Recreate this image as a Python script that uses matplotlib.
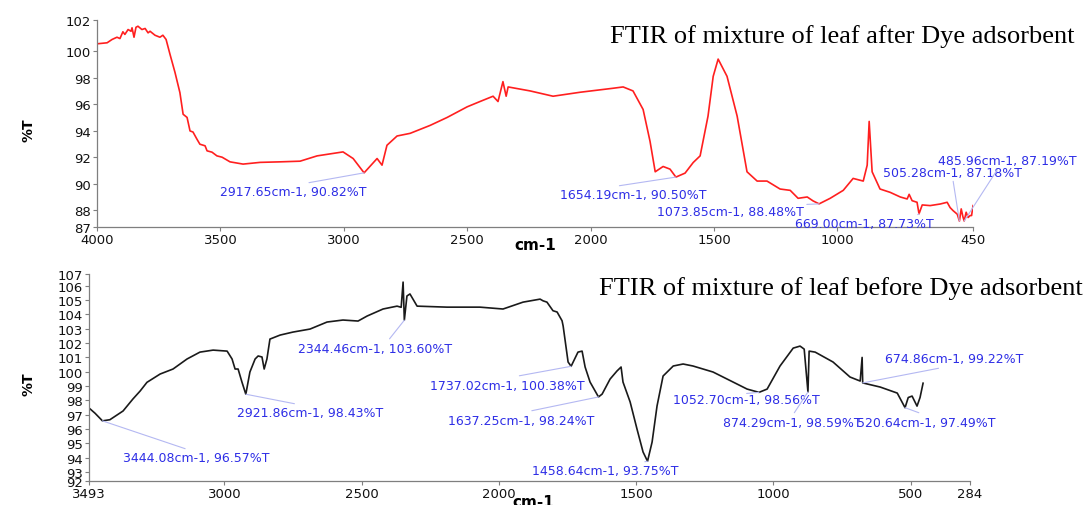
import matplotlib
matplotlib.use("Agg")
import matplotlib.pyplot as plt

# FTIR spectrum after dye adsorption (top, red)
after_wn = [3996, 3959, 3939, 3919, 3907, 3895, 3887, 3874, 3862, 3858, 3850, 3842, 3834, 3818,
            3805, 3793, 3785, 3765, 3745, 3733, 3720, 3704, 3684, 3664, 3651, 3635, 3623, 3611,
            3595, 3583, 3562, 3554, 3534, 3514, 3493, 3461, 3408, 3339, 3258, 3177, 3108, 3003,
            2962, 2917.65, 2865, 2845, 2825, 2784, 2731, 2650, 2581, 2500, 2448, 2395, 2375, 2363,
            2355, 2342, 2334, 2245, 2152, 2042, 1909, 1868, 1828, 1787, 1759, 1738, 1706, 1678,
            1654.19, 1617, 1584, 1556, 1524, 1503, 1483, 1447, 1406, 1366, 1325, 1285, 1232, 1191,
            1159, 1122, 1098, 1073.85, 1029, 976, 936, 895, 879, 871, 859, 827, 786, 745, 717, 709,
            697, 677, 669.00, 656, 624, 583, 555, 543, 531, 514, 505.28, 498, 491, 485.96, 478,
            470, 462, 456, 450]
after_t = [100.56, 100.63, 100.88, 101.05, 100.95, 101.46, 101.26, 101.63, 101.50, 101.76, 101.05,
           101.80, 101.88, 101.63, 101.71, 101.38, 101.50, 101.20, 101.05, 101.20, 100.88, 99.75,
           98.40, 96.87, 95.24, 95.0, 93.98, 93.9, 93.36, 92.98, 92.86, 92.48, 92.38, 92.1, 92.0,
           91.65, 91.48, 91.61, 91.65, 91.7, 92.1, 92.4, 91.9, 90.82, 91.9, 91.4, 92.9, 93.6, 93.8,
           94.4, 95.0, 95.8, 96.2, 96.6, 96.2, 97.1, 97.7, 96.6, 97.3, 97.0, 96.6, 96.9, 97.2, 97.3,
           97.0, 95.6, 93.2, 90.9, 91.3, 91.1, 90.50, 90.8, 91.6, 92.1, 95.1, 98.1, 99.4, 98.1,
           95.1, 90.9, 90.2, 90.2, 89.6, 89.5, 88.9, 89.0, 88.7, 88.48, 88.9, 89.5, 90.4, 90.2,
           91.4, 94.7, 90.9, 89.6, 89.35, 89.0, 88.85, 89.2, 88.72, 88.6, 87.73, 88.4, 88.35,
           88.47, 88.6, 88.2, 87.97, 87.7, 87.18, 88.1, 87.5, 87.19, 87.85, 87.45, 87.6, 87.6,
           88.35]

# FTIR spectrum before dye adsorption (bottom, black)
before_wn = [3493, 3471, 3444.08, 3417, 3369, 3333, 3307, 3282, 3234, 3187, 3136, 3089, 3041, 2990,
             2972, 2961, 2950, 2936, 2921.86, 2907, 2888, 2877, 2863, 2855, 2845, 2834, 2797, 2750,
             2688, 2626, 2568, 2513, 2480, 2422, 2389, 2371, 2356, 2349, 2344.46, 2335, 2324, 2298,
             2189, 2069, 1985, 1912, 1850, 1839, 1825, 1803, 1788, 1770, 1766, 1748, 1737.02, 1712,
             1697, 1686, 1668, 1637.25, 1624, 1595, 1570, 1555, 1548, 1522, 1497, 1475, 1458.64,
             1442, 1424, 1402, 1365, 1329, 1293, 1220, 1147, 1096, 1052.70, 1023, 976, 928, 903,
             888, 874.29, 870, 848, 783, 721, 684, 677, 674.86, 611, 549, 520.64, 509, 495, 477,
             466, 455]
before_t = [97.47, 97.1, 96.57, 96.65, 97.26, 98.10, 98.65, 99.26, 99.84, 100.19, 100.89, 101.37, 101.51,
            101.44, 100.89, 100.19, 100.19, 99.28, 98.43, 99.98, 100.89, 101.10, 101.03, 100.19, 100.89,
            102.28, 102.56, 102.77, 102.98, 103.47, 103.61, 103.54, 103.89, 104.38, 104.51, 104.58,
            104.5, 106.26, 103.60, 105.29, 105.43, 104.58, 104.51, 104.51, 104.38, 104.86, 105.07,
            104.95, 104.86, 104.26, 104.17, 103.56, 103.19, 100.68, 100.38, 101.37, 101.44, 100.33,
            99.28, 98.24, 98.44, 99.49, 100.05, 100.33, 99.28, 97.89, 96.0, 94.40, 93.75, 95.09,
            97.61, 99.7, 100.40, 100.54, 100.40, 99.98, 99.28, 98.79, 98.56, 98.79, 100.40, 101.65,
            101.79, 101.58, 98.59, 101.44, 101.37, 100.68, 99.63, 99.35, 101.0, 99.22, 98.93, 98.51,
            97.49, 98.2, 98.3, 97.6, 98.2, 99.2]

# labelled peaks
after_peaks_wn = [2917.65, 1654.19, 1073.85, 669.00, 505.28, 485.96]
after_peaks_t = [90.82, 90.50, 88.48, 87.73, 87.18, 87.19]
before_peaks_wn = [3444.08, 2921.86, 2344.46, 1737.02, 1637.25, 1458.64, 1052.70, 874.29, 520.64, 674.86]
before_peaks_t = [96.57, 98.43, 103.60, 100.38, 98.24, 93.75, 98.56, 98.59, 97.49, 99.22]

top_xticks = [4000, 3500, 3000, 2500, 2000, 1500, 1000, 450]
bot_xticks = [3493, 3000, 2500, 2000, 1500, 1000, 500, 284]

LABEL_BLUE = '#2e2ee6'
LEADER = '#b4b8f2'

fig = plt.figure(figsize=(10.91, 5.06), dpi=100)
ax1 = fig.add_axes([0.0889, 0.549, 0.803, 0.409])
ax2 = fig.add_axes([0.0816, 0.0474, 0.8075, 0.409])


def style_axis(ax):
    for s in ['top', 'right']:
        ax.spines[s].set_visible(False)
    for s in ['left', 'bottom']:
        ax.spines[s].set_color('#7f7f7f')
        ax.spines[s].set_linewidth(0.9)
    ax.tick_params(axis='both', colors='#7f7f7f', length=3, width=0.8, labelcolor='#111111',
                   labelsize=9.5, pad=1.5)


# top panel
ax1.plot(after_wn, after_t, color='#ff1f1f', lw=1.2)
ax1.set_xlim(4000, 450)
ylo, yhi = 86.72, 102.33
ax1.set_ylim(ylo, yhi)
ax1.set_xticks(top_xticks)
ax1.set_yticks([ylo, 88, 90, 92, 94, 96, 98, 100, yhi])
ax1.set_yticklabels(['87', '88', '90', '92', '94', '96', '98', '100', '102'])
style_axis(ax1)

top_text = [(3501, 89.38, 0.5, 1), (2123, 89.15, 0.28, 1), (1730, 87.87, 0.85, 1),
            (1171, 86.97, 0.85, 1), (814, 90.88, 0.5, 0), (591, 91.78, 0.44, 0)]
for w, t, (tx, ty, rx, ry) in zip(after_peaks_wn, after_peaks_t, top_text):
    ax1.annotate(f'{w:.2f}cm-1, {t:.2f}%T', xy=(w, t), xytext=(tx, ty),
                 ha='left', va='center', fontsize=9, color=LABEL_BLUE, annotation_clip=False,
                 arrowprops=dict(arrowstyle='-', color=LEADER, lw=0.8, relpos=(rx, ry),
                                 shrinkA=0, shrinkB=0))

# bottom panel
ax2.plot(before_wn, before_t, color='#1a1a1a', lw=1.2)
ax2.set_xlim(3493, 284)
blo, bhi = 92.37, 106.82
ax2.set_ylim(blo, bhi)
ax2.set_xticks(bot_xticks)
ax2.set_yticks([blo] + list(range(93, 107)) + [bhi])
ax2.set_yticklabels(['92'] + [str(v) for v in range(93, 107)] + ['107'])
style_axis(ax2)

bot_text = [(3369, 93.98, 0.48, 1), (2954, 97.12, 0.49, 1), (2732, 101.65, 0.58, 1),
            (2251, 99.07, 0.48, 1), (2185, 96.63, 0.48, 1), (1879, 93.07, 0.66, 1),
            (1365, 98.03, 0.5, 1), (1183, 96.49, 0.5, 1), (695, 96.49, 0.5, 1),
            (593, 100.89, 0.49, 0)]
for w, t, (tx, ty, rx, ry) in zip(before_peaks_wn, before_peaks_t, bot_text):
    ax2.annotate(f'{w:.2f}cm-1, {t:.2f}%T', xy=(w, t), xytext=(tx, ty),
                 ha='left', va='center', fontsize=9, color=LABEL_BLUE, annotation_clip=False,
                 arrowprops=dict(arrowstyle='-', color=LEADER, lw=0.8, relpos=(rx, ry),
                                 shrinkA=0, shrinkB=0))

# axis labels and titles
fig.text(0.026, 0.743, '%T', rotation=90, ha='center', va='center', fontsize=10, fontweight='bold')
fig.text(0.026, 0.241, '%T', rotation=90, ha='center', va='center', fontsize=10, fontweight='bold')
fig.text(535 / 1091, 1 - 246 / 506, 'cm-1', ha='center', va='center', fontsize=11, fontweight='bold')
fig.text(533 / 1091, 1 - 503 / 506, 'cm-1', ha='center', va='center', fontsize=11, fontweight='bold')

fig.text(0.559, 0.915, 'FTIR of mixture of leaf after Dye adsorbent', family='Liberation Serif',
         fontsize=19, ha='left', va='baseline')
fig.text(0.549, 0.417, 'FTIR of mixture of leaf before Dye adsorbent', family='Liberation Serif',
         fontsize=19, ha='left', va='baseline')

fig.savefig('out.png', dpi=100)
